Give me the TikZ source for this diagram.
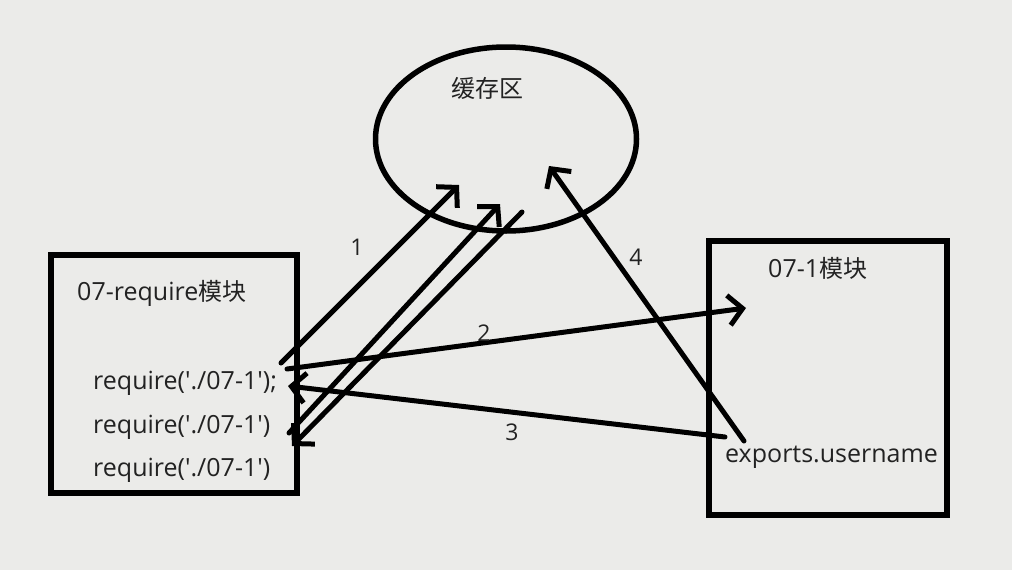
\documentclass[tikz,border=0pt]{standalone}
\usepackage{fontspec}
\newfontfamily\latin{Open Sans}
\newfontfamily\cjk{Noto Sans CJK SC}
\usetikzlibrary{arrows.meta,shapes.geometric}
\definecolor{bg}{HTML}{EBEBE9}
\definecolor{txt}{HTML}{222222}
\begin{document}
\begin{tikzpicture}[x=1pt,y=-1pt,
  stroke/.style={line width=6pt, draw=black},
  conn/.style={line width=5pt, black, line cap=round, -{Straight Barb[length=14pt,width=30pt]}},
  lbl/.style={font=\latin\fontsize{25}{30}\selectfont, text=txt, inner sep=0pt},
  zh/.style={font=\cjk\fontsize{24}{28}\selectfont, text=txt, inner sep=0pt},
  num/.style={font=\latin\fontsize{23}{28}\selectfont, text=txt, inner sep=0pt}]
\fill[bg] (0,0) rectangle (1012,570);
\useasboundingbox (0,0) rectangle (1012,570);

% shapes
\node[stroke, line width=5.5pt, ellipse, minimum width=261pt, minimum height=184pt, inner sep=0pt] (cache) at (506,139) {};
\node[stroke, rectangle, minimum width=246pt, minimum height=238pt, inner sep=0pt] (lbox) at (174,374) {};
\node[stroke, rectangle, minimum width=238pt, minimum height=274pt, inner sep=0pt] (rbox) at (828,378) {};

% texts
\node[zh] (cachet) at (487,88) {缓存区};
\node[lbl, anchor=base west] (ltitle) at (77,300) {07-require{\cjk\fontsize{24}{28}\selectfont 模块}};
\node[lbl, anchor=base west] (req1) at (93,389) {require('./07-1');};
\node[lbl, anchor=base west] (req2) at (93,433) {require('./07-1')};
\node[lbl, anchor=base west] (req3) at (93,476) {require('./07-1')};
\node[lbl, anchor=base west] (rtitle) at (768,277) {07-1{\cjk\fontsize{24}{28}\selectfont 模块}};
\node[lbl, anchor=base west] (exp) at (725,462) {exports.username};

% connector end points
\coordinate (a1s) at (281,363);
\coordinate (a1e) at (459,185);
\coordinate (a2s) at (289,433);
\coordinate (a2e) at (500,204);
\coordinate (a3s) at (522,212);
\coordinate (a3e) at (292,446);
\coordinate (a4s) at (287,369);
\coordinate (a4e) at (746,308);
\coordinate (a5s) at (725,437);
\coordinate (a5e) at (288,386);
\coordinate (a6s) at (744,441);
\coordinate (a6e) at (549,166);

% connectors
\draw[conn] (a1s) -- (a1e);
\draw[conn] (a2s) -- (a2e);
\draw[conn] (a3s) -- (a3e);
\draw[conn] (a4s) -- (a4e);
\draw[conn] (a5s) -- (a5e);
\draw[conn] (a6s) -- (a6e);

% numbers
\node[num] (n1) at (357,247) {1};
\node[num] (n2) at (484,333) {2};
\node[num] (n3) at (512,432) {3};
\node[num] (n4) at (636,257) {4};
\end{tikzpicture}
\end{document}
